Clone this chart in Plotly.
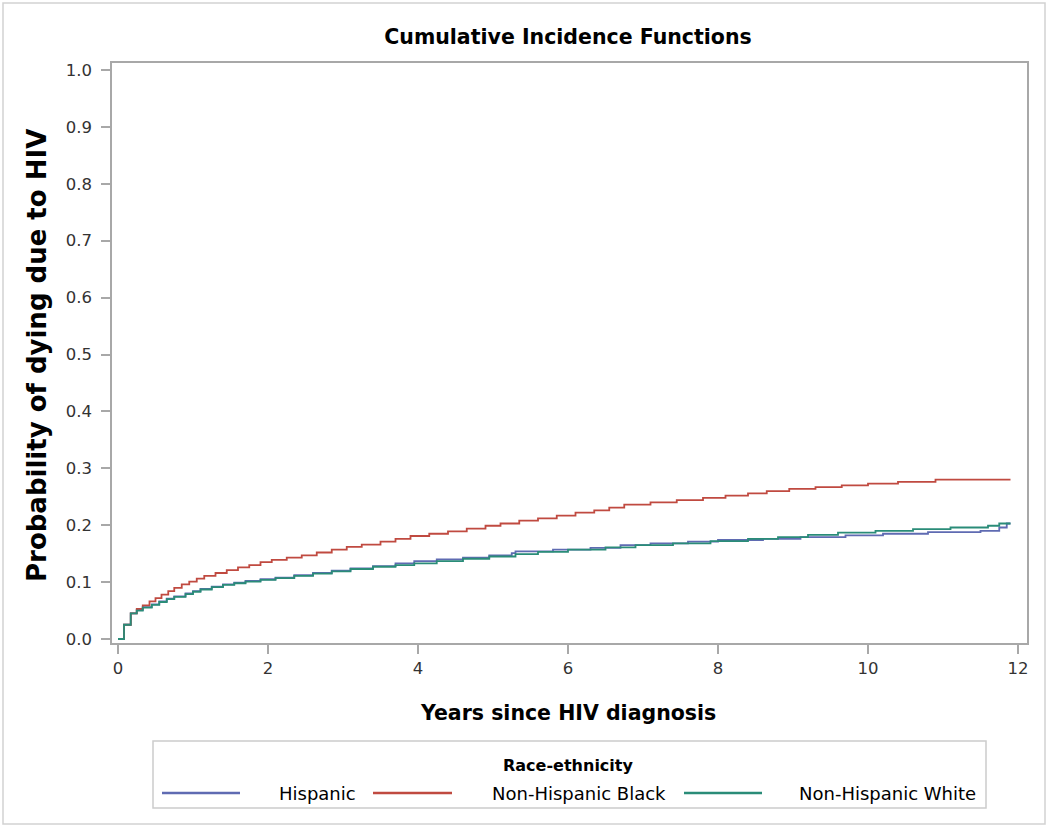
import plotly.graph_objects as go

# ---- data (step functions) ----
years_hispanic = [0, 0.08, 0.17, 0.25, 0.33, 0.45, 0.55, 0.65, 0.75, 0.9, 1.0, 1.1, 1.25, 1.4, 1.55,
                  1.7, 1.9, 2.1, 2.35, 2.6, 2.85, 3.1, 3.4, 3.7, 3.95, 4.25, 4.6, 4.95, 5.25, 5.3,
                  5.8, 6.3, 6.7, 7.1, 7.6, 8.0, 8.6, 9.1, 9.7, 10.2, 10.8, 11.5, 11.75, 11.85, 11.9]
cif_hispanic = [0, 0.025, 0.045, 0.051, 0.056, 0.061, 0.066, 0.071, 0.075, 0.080, 0.084, 0.088, 0.092,
                0.096, 0.099, 0.102, 0.105, 0.108, 0.112, 0.116, 0.120, 0.124, 0.128, 0.133, 0.137,
                0.140, 0.143, 0.147, 0.151, 0.154, 0.157, 0.160, 0.165, 0.168, 0.171, 0.174, 0.176,
                0.179, 0.182, 0.185, 0.188, 0.190, 0.196, 0.203, 0.203]

years_black = [0, 0.08, 0.17, 0.25, 0.33, 0.42, 0.5, 0.58, 0.67, 0.75, 0.85, 0.95, 1.05, 1.15, 1.3,
               1.45, 1.6, 1.75, 1.9, 2.05, 2.25, 2.45, 2.65, 2.85, 3.05, 3.25, 3.5, 3.7, 3.9, 4.15,
               4.4, 4.65, 4.9, 5.1, 5.35, 5.6, 5.85, 6.1, 6.35, 6.55, 6.75, 7.1, 7.45, 7.8, 8.1,
               8.4, 8.65, 8.95, 9.3, 9.65, 10.0, 10.4, 10.9, 11.9]
cif_black = [0, 0.025, 0.045, 0.053, 0.059, 0.066, 0.072, 0.078, 0.084, 0.090, 0.096, 0.101, 0.106,
             0.111, 0.116, 0.121, 0.126, 0.130, 0.135, 0.139, 0.143, 0.147, 0.152, 0.157, 0.162,
             0.166, 0.171, 0.176, 0.181, 0.185, 0.189, 0.194, 0.199, 0.203, 0.208, 0.212, 0.217,
             0.222, 0.226, 0.231, 0.236, 0.240, 0.244, 0.248, 0.252, 0.256, 0.260, 0.264, 0.267,
             0.270, 0.273, 0.276, 0.280, 0.280]

years_white = [0, 0.08, 0.17, 0.25, 0.33, 0.45, 0.55, 0.65, 0.75, 0.9, 1.0, 1.1, 1.25, 1.4, 1.55,
               1.7, 1.9, 2.1, 2.35, 2.6, 2.85, 3.1, 3.4, 3.7, 3.95, 4.25, 4.6, 4.95, 5.3, 5.6,
               6.0, 6.5, 6.9, 7.4, 7.9, 8.4, 8.8, 9.2, 9.6, 10.1, 10.6, 11.1, 11.6, 11.75, 11.9]
cif_white = [0, 0.025, 0.045, 0.050, 0.055, 0.060, 0.065, 0.070, 0.074, 0.079, 0.083, 0.087, 0.091,
             0.095, 0.098, 0.101, 0.104, 0.107, 0.111, 0.115, 0.119, 0.123, 0.127, 0.130, 0.133,
             0.137, 0.141, 0.145, 0.149, 0.153, 0.157, 0.161, 0.165, 0.168, 0.172, 0.176, 0.179,
             0.183, 0.187, 0.190, 0.193, 0.196, 0.199, 0.203, 0.203]

group_names = ["Hispanic", "Non-Hispanic Black", "Non-Hispanic White"]
group_colors = ["#5F6BB2", "#C04A40", "#2A8C78"]

x_ticks = [0, 2, 4, 6, 8, 10, 12]
y_ticks = [0.0, 0.1, 0.2, 0.3, 0.4, 0.5, 0.6, 0.7, 0.8, 0.9, 1.0]
y_tick_labels = ["0.0", "0.1", "0.2", "0.3", "0.4", "0.5", "0.6", "0.7", "0.8", "0.9", "1.0"]

FONT = "DejaVu Sans"

fig = go.Figure()
series = [(years_hispanic, cif_hispanic), (years_black, cif_black), (years_white, cif_white)]
for i in [0, 1, 2]:
    xs, ys = series[i]
    fig.add_trace(go.Scatter(
        x=xs, y=ys, mode="lines", line_shape="hv", name=group_names[i],
        line=dict(color=group_colors[i], width=1.8), showlegend=False,
    ))

# ---- layout geometry (pixels) ----
W, H = 1050, 828
L, R, T, B = 112, 23, 63, 185
pw, ph = W - L - R, H - T - B


def px(xpix):
    return (xpix - L) / pw


def py(ypix):
    return (H - B - ypix) / ph


axis_gray = "#A8A8A8"
fig.update_layout(
    width=W, height=H,
    margin=dict(l=L, r=R, t=T, b=B),
    paper_bgcolor="white", plot_bgcolor="white",
    title=dict(text="<b>Cumulative Incidence Functions</b>", x=px(568), xref="paper", xanchor="center",
               y=1 - 37 / H, yref="container", yanchor="middle",
               font=dict(family=FONT, size=20.5, color="black")),
    xaxis=dict(range=[-0.08, 12.12], tickvals=x_ticks, ticks="outside", ticklen=9,
               tickcolor=axis_gray, tickwidth=1.5, showline=True, linecolor=axis_gray, linewidth=1.5,
               mirror=True, showgrid=False, zeroline=False,
               tickfont=dict(family=FONT, size=16.5, color="#333333")),
    yaxis=dict(range=[-0.00703, 1.0123], tickvals=y_ticks, ticktext=y_tick_labels, ticks="outside",
               ticklen=9, tickcolor=axis_gray, tickwidth=1.5, showline=True, linecolor=axis_gray,
               linewidth=1.5, mirror=True, showgrid=False, zeroline=False, ticklabelstandoff=6,
               tickfont=dict(family=FONT, size=16.5, color="#333333")),
)

shapes = []
annotations = []
# outer frame
shapes.append(dict(type="rect", xref="paper", yref="paper", x0=px(3), x1=px(1045), y0=py(824), y1=py(3),
                   line=dict(color="#D2D2D2", width=1.5), layer="below"))
# legend box
shapes.append(dict(type="rect", xref="paper", yref="paper", x0=px(153), x1=px(986), y0=py(808), y1=py(741),
                   line=dict(color="#CCCCCC", width=1.5)))
leg_line_x = [(162, 240), (373, 452), (684, 762)]
leg_text_x = [277, 490, 797]
for i in range(3):
    shapes.append(dict(type="line", xref="paper", yref="paper", x0=px(leg_line_x[i][0]),
                       x1=px(leg_line_x[i][1]), y0=py(793), y1=py(793),
                       line=dict(color=group_colors[i], width=2.5)))
    annotations.append(dict(text=group_names[i], xref="paper", yref="paper", x=px(leg_text_x[i]), y=py(793),
                            xanchor="left", yanchor="middle", showarrow=False,
                            font=dict(family=FONT, size=18, color="black")))
annotations.append(dict(text="<b>Race-ethnicity</b>", xref="paper", yref="paper", x=px(568), y=py(765),
                        xanchor="center", yanchor="middle", showarrow=False,
                        font=dict(family=FONT, size=16, color="black")))
# axis titles
annotations.append(dict(text="<b>Years since HIV diagnosis</b>", xref="paper", yref="paper", x=px(568),
                        y=py(713), xanchor="center", yanchor="middle", showarrow=False,
                        font=dict(family=FONT, size=20.5, color="black")))
annotations.append(dict(text="<b>Probability of dying due to HIV</b>", xref="paper", yref="paper", x=px(37),
                        y=py(356), xanchor="center", yanchor="middle", showarrow=False, textangle=-90,
                        font=dict(family=FONT, size=26, color="black")))

fig.update_layout(shapes=shapes, annotations=annotations)
fig.write_html("out.html", config={"displayModeBar": False},
               post_script="document.body.style.margin='0px';")
